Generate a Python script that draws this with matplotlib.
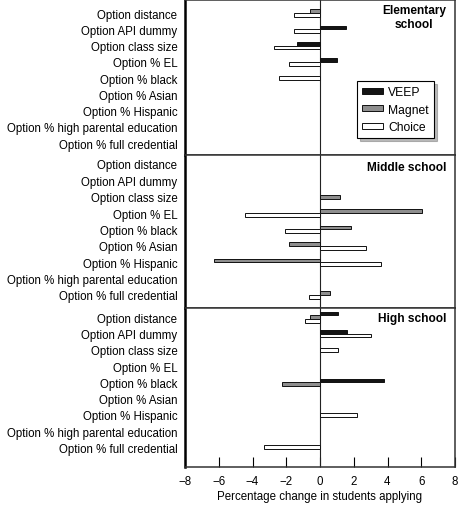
import matplotlib
matplotlib.use("Agg")
import matplotlib.pyplot as plt
import numpy as np

plt.rcParams['font.family'] = ['Liberation Sans', 'DejaVu Sans']
plt.rcParams['axes.unicode_minus'] = True

# Row labels (same for every panel)
rows = ["Option distance", "Option API dummy", "Option class size", "Option % EL",
        "Option % black", "Option % Asian", "Option % Hispanic",
        "Option % high parental education", "Option % full credential"]
series = ["VEEP", "Magnet", "Choice"]
nan = np.nan

# values per panel: VEEP, Magnet, Choice (nan = no bar)
elem_veep = [nan, 1.54, -1.34, 1.03, nan, nan, nan, nan, nan]
elem_magnet = [-0.59, nan, nan, nan, nan, nan, nan, nan, nan]
elem_choice = [-1.52, -1.52, -2.74, -1.82, -2.41, nan, nan, nan, nan]

mid_veep = [nan, nan, nan, nan, nan, nan, nan, nan, nan]
mid_magnet = [nan, nan, 1.20, 6.04, 1.84, -1.82, -6.26, nan, 0.61]
mid_choice = [nan, nan, nan, -4.44, -2.05, 2.73, 3.63, nan, -0.63]

high_veep = [1.07, 1.60, nan, nan, 3.79, nan, nan, nan, nan]
high_magnet = [-0.59, nan, nan, nan, -2.23, nan, nan, nan, nan]
high_choice = [-0.89, 3.02, 1.07, nan, nan, nan, 2.19, nan, -3.34]

panels = [("Elementary\nschool", [elem_veep, elem_magnet, elem_choice]),
          ("Middle school", [mid_veep, mid_magnet, mid_choice]),
          ("High school", [high_veep, high_magnet, high_choice])]

xticks = [-8, -6, -4, -2, 0, 2, 4, 6, 8]

face = {"VEEP": "#141414", "Magnet": "#8e8e8e", "Choice": "white"}
ylims = [(8.72, -0.80), (8.80, -0.55), (9.21, -0.57)]
title_y = [1 - 4 / 155, 1 - 6 / 153, 1 - 4 / 159]
bar_h = 0.225
fs = 8.3

fig = plt.figure(figsize=(4.59, 5.06), dpi=100)
gs = fig.add_gridspec(3, 1, height_ratios=[155, 153, 159], hspace=0,
                      left=185 / 459, right=455 / 459, top=1 - 1 / 506, bottom=1 - 468 / 506)

for p, (title, vals) in enumerate(panels):
    ax = fig.add_subplot(gs[p])
    for r in range(len(rows)):
        # only the series that have a value get a bar, centred on the row
        present = [s for s in range(3) if not np.isnan(vals[s][r])]
        n = len(present)
        for i, s in enumerate(present):
            y = r + (i - (n - 1) / 2) * bar_h
            ax.barh(y, vals[s][r], height=bar_h, color=face[series[s]],
                    edgecolor="#111111", linewidth=0.7, zorder=3)
    ax.axvline(0, color="#222222", linewidth=0.8, zorder=2)
    ax.set_xlim(-8, 8)
    ax.set_ylim(*ylims[p])
    ax.set_yticks(range(len(rows)))
    ax.set_yticklabels(rows, fontsize=fs)
    ax.tick_params(axis='y', length=0, pad=5.5)
    for side in ["top", "right", "bottom"]:
        ax.spines[side].set_color("#333333")
        ax.spines[side].set_linewidth(1.1)
    ax.spines["left"].set_linewidth(1.8)
    ax.spines["left"].set_color("black")
    ax.text(0.967, title_y[p], title, transform=ax.transAxes, ha="right", va="top",
            multialignment="center", fontsize=8.6, fontweight="bold")
    if p < 2:
        ax.set_xticks([])
    else:
        ax.set_xticks(xticks)
        ax.set_xticklabels([str(t).replace("-", "\u2212") for t in xticks], fontsize=fs)
        ax.tick_params(axis='x', direction='in', length=7.2, width=0.8, pad=5.5)
        ax.set_xlabel("Percentage change in students applying", fontsize=fs, labelpad=2.5)
    if p == 0:
        handles = [plt.Rectangle((0, 0), 1, 1, facecolor=face[s], edgecolor="#111111",
                                 linewidth=0.7) for s in series]
        leg = ax.legend(handles, series, loc="upper left", bbox_to_anchor=(0.637, 0.477),
                        borderaxespad=0, fontsize=8.7, frameon=True, fancybox=False,
                        shadow={"color": "#777777", "alpha": 0.5},
                        handlelength=1.75, handleheight=0.35, borderpad=0.42,
                        labelspacing=0.45, handletextpad=0.42)
        leg.get_frame().set_edgecolor("black")
        leg.get_frame().set_linewidth(0.8)

fig.savefig("out.png", dpi=100)
